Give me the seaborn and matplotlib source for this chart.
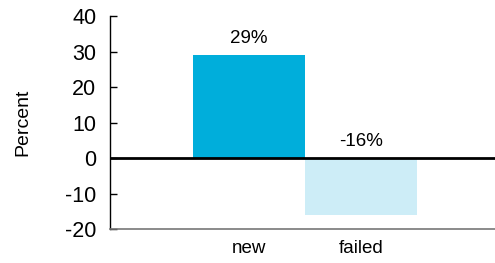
import matplotlib
matplotlib.use("Agg")
import matplotlib.pyplot as plt
import seaborn as sns
import pandas as pd

# data
categories = ["new", "failed"]
values = [29, -16]
labels = ["29%", "-16%"]
colors = ["#00aedb", "#cdedf7"]

sns.set_theme(style="white")
plt.rcParams['font.family'] = ['Liberation Sans', 'DejaVu Sans']
plt.rcParams['axes.unicode_minus'] = False
plt.rcParams['text.color'] = 'black'

df = pd.DataFrame({"cat": categories, "val": values})

fig = plt.figure(figsize=(4.95, 2.63), dpi=100)
ax = fig.add_axes([0.223, 0.129, 0.777, 0.81])

sns.barplot(data=df, x="cat", y="val", hue="cat", palette=colors,
            width=1.0, legend=False, saturation=1, linewidth=0, ax=ax)

# zero line
ax.axhline(0, color="black", linewidth=2, zorder=5)

# value labels, placed above the bar top or above zero
for i, (v, lab) in enumerate(zip(values, labels)):
    ax.annotate(lab, xy=(i, max(v, 0)), xytext=(0, 6), textcoords="offset points",
                ha="center", va="bottom", fontsize=13.5, color="black")

ax.set_ylim(-20, 40)
ax.set_yticks([-20, -10, 0, 10, 20, 30, 40])
ax.set_xlim(-1.24, 2.2)
ax.set_xlabel("")
ax.set_ylabel("Percent", fontsize=14, labelpad=24, color="black")

for s in ["top", "right"]:
    ax.spines[s].set_visible(False)
ax.spines["left"].set_color("black")
ax.spines["left"].set_linewidth(1)
ax.spines["bottom"].set_color("#777777")
ax.spines["bottom"].set_linewidth(1.2)

ax.tick_params(axis="y", direction="in", length=5, width=1, color="black",
               labelsize=15.5, pad=10, left=True, labelcolor="black")
ax.tick_params(axis="x", length=0, labelsize=13.5, pad=8, labelcolor="black")

fig.savefig("out.png", dpi=100)
